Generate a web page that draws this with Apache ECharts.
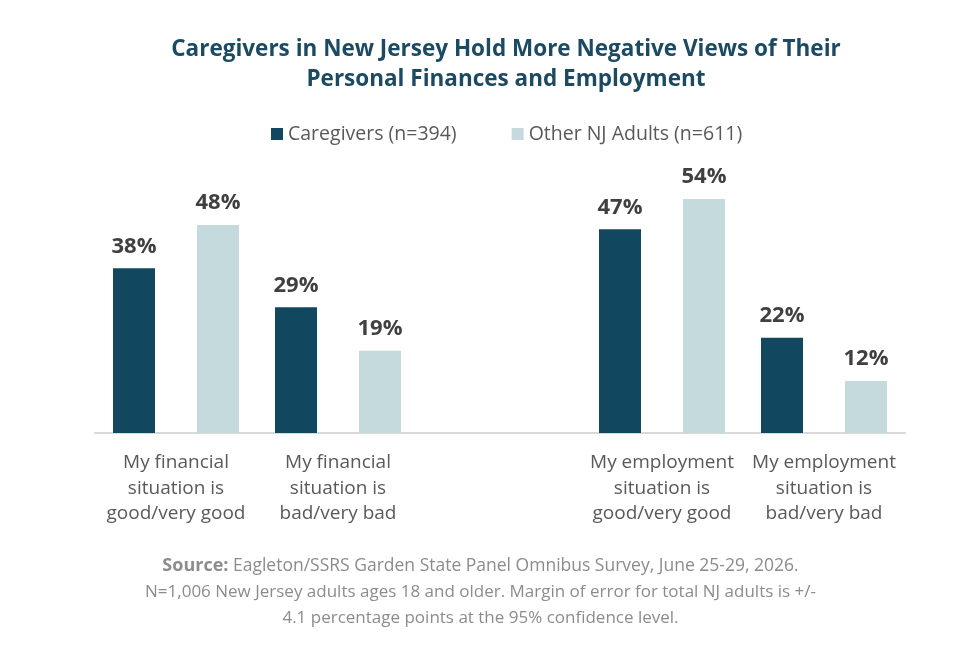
<!DOCTYPE html>
<html>
<head>
<meta charset="utf-8">
<script src="https://cdn.jsdelivr.net/npm/echarts@6/dist/echarts.min.js"></script>
<style>
  html, body { margin: 0; padding: 0; background: #ffffff; }
  #chart { width: 961px; height: 655px; }
</style>
</head>
<body>
<div id="chart"></div>
<script>
const categories = [
    'My financial\nsituation is\ngood/very good',
    'My financial\nsituation is\nbad/very bad',
    '',
    'My employment\nsituation is\ngood/very good',
    'My employment\nsituation is\nbad/very bad'
];
const seriesNames = ['Caregivers (n=394)', 'Other NJ Adults (n=611)'];
const caregivers = [38, 29, null, 47, 22];
const otherAdults = [48, 19, null, 54, 12];

const titleText = 'Caregivers in New Jersey Hold More Negative Views of Their\nPersonal Finances and Employment';
const sourceLines = [
    '{b|Source:} Eagleton/SSRS Garden State Panel Omnibus Survey, June 25-29, 2026.',
    'N=1,006 New Jersey adults ages 18 and older. Margin of error for total NJ adults is +/-',
    '4.1 percentage points at the 95% confidence level.'
];

const chart = echarts.init(document.getElementById('chart'));

const labelStyle = {
    show: true,
    position: 'top',
    distance: 11,
    formatter: '{c}%',
    fontFamily: 'Open Sans',
    fontWeight: 'bold',
    fontSize: 22,
    color: '#404040'
};

// one centred text element per footnote line
const footnote = sourceLines.map((line, i) => ({
    type: 'text',
    left: 'center',
    top: 557 + i * 26.5,
    style: {
        text: line,
        fontFamily: 'Open Sans',
        fontSize: i === 0 ? 17.5 : 17,
        fill: '#8c8c8c',
        rich: {
            b: { fontFamily: 'Open Sans', fontWeight: 'bold', fontSize: 18, fill: '#8c8c8c' }
        }
    }
}));

chart.setOption({
    animation: false,
    title: {
        text: titleText,
        left: 501,
        textAlign: 'center',
        top: 30,
        textStyle: {
            fontFamily: 'Open Sans',
            fontWeight: 'bold',
            fontSize: 22.5,
            lineHeight: 30,
            color: '#1b4a62'
        }
    },
    graphic: footnote,
    legend: {
        top: 119,
        left: 266,
        itemWidth: 12,
        itemHeight: 12,
        itemGap: 55,
        icon: 'rect',
        textStyle: { fontFamily: 'Open Sans', fontSize: 19.5, color: '#595959' },
        data: seriesNames
    },
    grid: { left: 95, right: 56, top: 173, bottom: 222 },
    xAxis: {
        type: 'category',
        data: categories,
        axisLine: { lineStyle: { color: '#d9d9d9', width: 2 } },
        axisTick: { show: false },
        axisLabel: {
            interval: 0,
            margin: 17,
            fontFamily: 'Open Sans',
            fontSize: 19,
            lineHeight: 25.5,
            color: '#595959'
        }
    },
    yAxis: {
        type: 'value',
        min: 0,
        max: 60,
        show: false,
        splitLine: { show: false }
    },
    series: [
        {
            name: seriesNames[0],
            type: 'bar',
            data: caregivers,
            barWidth: 42,
            barGap: '100%',
            itemStyle: { color: '#11475f' },
            label: labelStyle
        },
        {
            name: seriesNames[1],
            type: 'bar',
            data: otherAdults,
            barWidth: 42,
            itemStyle: { color: '#c4dadd' },
            label: labelStyle
        }
    ]
});
</script>
</body>
</html>
